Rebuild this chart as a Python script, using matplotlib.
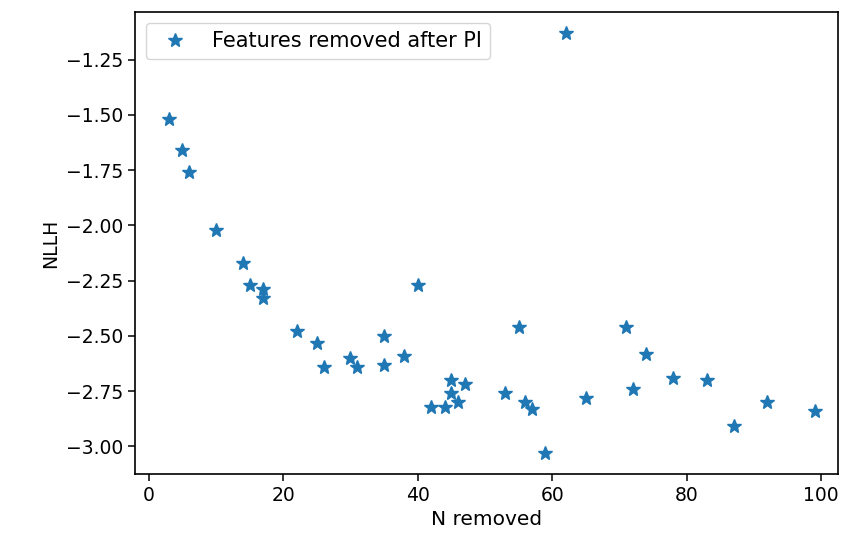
import matplotlib
matplotlib.use("Agg")
import matplotlib.pyplot as plt

# Number of features removed and the resulting NLLH
n_removed = [3, 5, 6, 10, 14, 15, 17, 17, 22, 25, 26, 30, 31, 35, 35, 38, 40,
             42, 44, 45, 45, 46, 47, 53, 55, 56, 57, 59, 62, 65, 71, 72, 74,
             78, 83, 87, 92, 99]
nllh = [-1.52, -1.66, -1.76, -2.02, -2.17, -2.27, -2.29, -2.33, -2.48, -2.53,
        -2.64, -2.60, -2.64, -2.50, -2.63, -2.59, -2.27, -2.82, -2.82, -2.70,
        -2.76, -2.80, -2.72, -2.76, -2.46, -2.80, -2.83, -3.03, -1.13, -2.78,
        -2.46, -2.74, -2.58, -2.69, -2.70, -2.91, -2.80, -2.84]

plt.rcParams["font.size"] = 13.5

fig = plt.figure(figsize=(8.5, 5.42), dpi=100)
ax = fig.add_axes([0.159, 0.1255, 0.827, 0.852])

ax.plot(n_removed, nllh, "*", markersize=10, color="#1f77b4",
        label="Features removed after PI")

ax.set_xlabel("N removed", fontsize=14.5)
ax.set_ylabel("NLLH")
ax.set_xlim(-2, 102.5)
ax.set_yticks([-3.00, -2.75, -2.50, -2.25, -2.00, -1.75, -1.50, -1.25])
ax.set_xticks([0, 20, 40, 60, 80, 100])

for sp in ax.spines.values():
    sp.set_linewidth(1.2)
ax.tick_params(length=5, width=1.1)

ax.legend(loc="upper left", fontsize=15)

fig.savefig("out.png", dpi=100)
